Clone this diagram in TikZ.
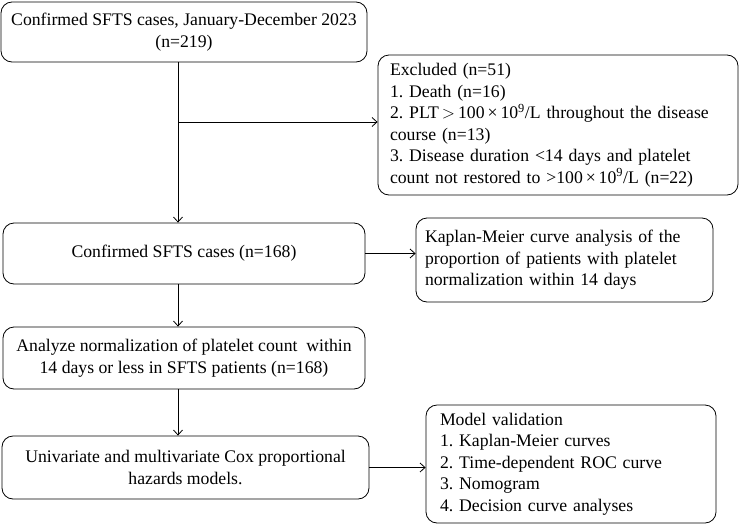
\documentclass[tikz,border=0pt]{standalone}
\usepackage{fontspec}
\setmainfont{Liberation Serif}
\usetikzlibrary{arrows.meta}
\frenchspacing

\begin{document}
\begin{tikzpicture}[x=1pt,y=-1pt]
      \tikzstyle{box}=[draw, rounded corners=11pt, line width=0.8pt,
        inner xsep=0pt, inner ysep=0pt, font=\fontsize{17.7}{21.5}\selectfont];
      \tikzstyle{listbox}=[box, align=left, inner xsep=12pt];
      \tikzstyle{flow}=[-{Straight Barb[length=5pt,width=9pt]}, line width=0.8pt];
      \useasboundingbox (0,0) rectangle (741,525);
      \coordinate (spine) at (178,0);
      \coordinate (split) at (178,122);
      % main column
      \draw (184,32) node[style=box, align=center, minimum width=366pt,
        minimum height=60pt] (cases) {Confirmed SFTS cases, January-December 2023\\(n=219)};
      \draw (184,253.5) node[style=box, minimum width=362pt,
        minimum height=61pt] (confirmed) {Confirmed SFTS cases (n=168)};
      \draw (184,358) node[style=box, align=center, minimum width=362pt,
        minimum height=62pt] (normal) {Analyze normalization of platelet count \ within\\14 days or less in SFTS patients (n=168)};
      \draw (185.5,467.5) node[style=box, align=center, minimum width=367pt,
        minimum height=63pt] (cox) {Univariate and multivariate Cox proportional\\hazards models.};
      % side boxes
      \draw (558,125) node[style=listbox, text width=336pt, minimum height=140pt]
        (excl) {Excluded (n=51)\\1. Death (n=16)\\2. PLT\,$>$\,100\,×\,10\textsuperscript{9}/L throughout the disease\\course (n=13)\\3. Disease duration <14 days and platelet\\count not restored to >100\,×\,10\textsuperscript{9}/L (n=22)};
      \draw (564.5,260) node[style=listbox, inner xsep=9pt, text width=279pt, minimum height=84pt]
        (km) {Kaplan-Meier curve analysis of the\\proportion of patients with platelet\\normalization within 14 days\\[-8pt]};
      \draw (571,464) node[style=listbox, inner xsep=14pt, text width=262pt, minimum height=118pt]
        (valid) {Model validation\\1. Kaplan-Meier curves\\2. Time-dependent ROC curve\\3. Nomogram\\4. Decision curve analyses};
      % connectors
      \draw[flow] (cases.south -| spine) -- (confirmed.north -| spine);
      \draw[flow] (split) -- (split -| excl.west);
      \draw[flow] (confirmed.south -| spine) -- (normal.north -| spine);
      \draw[flow] (normal.south -| spine) -- (cox.north -| spine);
      \draw[flow] (confirmed.east) -- (confirmed.east -| km.west);
      \draw[flow] (cox.east) -- (cox.east -| valid.west);
    \end{tikzpicture}
\end{document}
